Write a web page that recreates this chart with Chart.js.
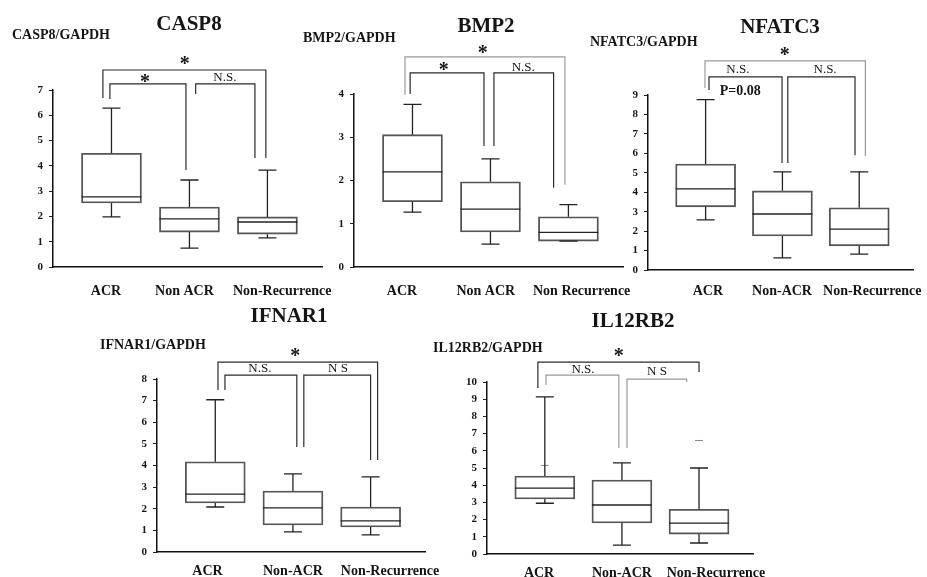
<!DOCTYPE html>
<html><head><meta charset="utf-8">
<script src="https://cdn.jsdelivr.net/npm/chart.js@4.4.1/dist/chart.umd.min.js"></script>
<style>
html,body{margin:0;padding:0;background:#fff;width:927px;height:577px;overflow:hidden;position:relative}
canvas{position:absolute}
</style></head><body>
<canvas id="c1" width="345" height="300" style="left:0px;top:0px"></canvas>
<canvas id="c2" width="345" height="300" style="left:300px;top:0px"></canvas>
<canvas id="c3" width="347" height="300" style="left:580px;top:0px"></canvas>
<canvas id="c4" width="360" height="287" style="left:90px;top:290px"></canvas>
<canvas id="c5" width="355" height="287" style="left:425px;top:290px"></canvas>
<script>
// ---------------- DATA ----------------
const catsCASP8 = ['ACR', 'Non ACR', 'Non-Recurrence'];
const catsBMP2 = ['ACR', 'Non ACR', 'Non Recurrence'];
const catsOther = ['ACR', 'Non-ACR', 'Non-Recurrence'];

const casp8Ticks = [0, 1, 2, 3, 4, 5, 6, 7];
const casp8Min = [1.98, 0.75, 1.15];
const casp8Q1  = [2.53, 1.38, 1.30];
const casp8Med = [2.77, 1.90, 1.78];
const casp8Q3  = [4.50, 2.37, 1.98];
const casp8Max = [6.28, 3.44, 3.83];

const bmp2Ticks = [0, 1, 2, 3, 4];
const bmp2Min = [1.27, 0.53, 0.60];
const bmp2Q1  = [1.51, 0.81, 0.60];
const bmp2Med = [2.20, 1.34, 0.80];
const bmp2Q3  = [3.06, 1.97, 1.16];
const bmp2Max = [3.76, 2.50, 1.44];

const nfatc3Ticks = [0, 1, 2, 3, 4, 5, 6, 7, 8, 9];
const nfatc3Min = [2.58, 0.62, 0.82];
const nfatc3Q1  = [3.25, 1.75, 1.24];
const nfatc3Med = [4.17, 2.88, 2.10];
const nfatc3Q3  = [5.45, 4.07, 3.20];
const nfatc3Max = [8.76, 5.05, 5.05];

const ifnar1Ticks = [0, 1, 2, 3, 4, 5, 6, 7, 8];
const ifnar1Min = [2.08, 0.93, 0.79];
const ifnar1Q1  = [2.27, 1.25, 1.16];
const ifnar1Med = [2.68, 2.04, 1.44];
const ifnar1Q3  = [4.17, 2.82, 2.08];
const ifnar1Max = [7.04, 3.61, 3.47];

const il12rb2Ticks = [0, 1, 2, 3, 4, 5, 6, 7, 8, 9, 10];
const il12rb2Min = [2.95, 0.52, 0.64];
const il12rb2Q1  = [3.20, 1.80, 1.16];
const il12rb2Med = [3.83, 2.85, 1.80];
const il12rb2Q3  = [4.53, 4.30, 2.60];
const il12rb2Max = [9.13, 5.30, 5.00];
const il12rb2OutX = [0, 2];
const il12rb2OutY = [5.15, 6.6];

// significance brackets (category units / value units)
const casp8Brackets = [
  {x1: -0.11, b1: 6.68, x2: 1.98, b2: 4.31, y: 7.79},
  {x1: -0.02, b1: 6.64, x2: 0.955, b2: 3.84, y: 7.24},
  {x1: 1.08, b1: 6.84, x2: 1.84, b2: 4.31, y: 7.24}
];
const casp8Notes = [
  {t: '*', x: 0.94, y: 8.18}, {t: '*', x: 0.43, y: 7.5}, {t: 'N.S.', x: 1.455, y: 7.5}
];
const bmp2Brackets = [
  {x1: -0.096, b1: 3.98, x2: 1.955, b2: 1.9, y: 4.86, fade: true},
  {x1: -0.03, b1: 4.0, x2: 0.917, b2: 2.8, y: 4.49},
  {x1: 1.045, b1: 2.8, x2: 1.81, b2: 1.83, y: 4.49}
];
const bmp2Notes = [
  {t: '*', x: 0.90, y: 5.04}, {t: '*', x: 0.40, y: 4.65}, {t: 'N.S.', x: 1.42, y: 4.62}
];
const nfatc3Brackets = [
  {x1: -0.008, b1: 9.36, x2: 2.08, b2: 5.86, y: 10.75, fade: true},
  {x1: 0.044, b1: 9.26, x2: 0.995, b2: 5.5, y: 9.93},
  {x1: 1.07, b1: 5.5, x2: 1.945, b2: 5.9, y: 9.93}
];
const nfatc3Notes = [
  {t: '*', x: 1.03, y: 11.27}, {t: 'N.S.', x: 0.42, y: 10.29}, {t: 'N.S.', x: 1.555, y: 10.29},
  {t: 'P=0.08', x: 0.45, y: 9.16, big: true}
];
const ifnar1Brackets = [
  {x1: 0.035, b1: 7.49, x2: 2.09, b2: 4.25, y: 8.78},
  {x1: 0.125, b1: 7.49, x2: 1.05, b2: 4.85, y: 8.18},
  {x1: 1.14, b1: 4.85, x2: 2.0, b2: 4.25, y: 8.18}
];
const ifnar1Notes = [
  {t: '*', x: 1.03, y: 9.25}, {t: 'N.S.', x: 0.575, y: 8.5}, {t: 'N S', x: 1.58, y: 8.5}
];
const il12rb2Brackets = [
  {x1: -0.09, b1: 9.65, x2: 2.0, b2: 10.58, y: 11.16},
  {x1: 0.015, b1: 9.83, x2: 0.96, b2: 6.16, y: 10.4, fade: true},
  {x1: 1.066, b1: 6.16, x2: 1.84, b2: 10.0, y: 10.17, fade: true}
];
const il12rb2Notes = [
  {t: '*', x: 0.96, y: 11.74}, {t: 'N.S.', x: 0.495, y: 10.7}, {t: 'N S', x: 1.455, y: 10.6}
];

// ---------------- PANELS (layout) ----------------
const panels = [
  {id: 'c1', title: 'CASP8', yLabel: 'CASP8/GAPDH', cats: catsCASP8, ticks: casp8Ticks,
   min: casp8Min, q1: casp8Q1, med: casp8Med, q3: casp8Q3, max: casp8Max,
   brackets: casp8Brackets, notes: casp8Notes,
   L: {left: 0, top: 0, padTop: 90, padRight: 23, yW: 53, xH: 33, labPad: 16, labX: [-0.07, 0.936, 2.19],
       titleX: 189, titleY: 25, ylX: 12, ylY: 35}},
  {id: 'c2', title: 'BMP2', yLabel: 'BMP2/GAPDH', cats: catsBMP2, ticks: bmp2Ticks,
   min: bmp2Min, q1: bmp2Q1, med: bmp2Med, q3: bmp2Q3, max: bmp2Max,
   brackets: bmp2Brackets, notes: bmp2Notes,
   L: {left: 300, top: 0, padTop: 94, padRight: 22, yW: 54, xH: 33, labPad: 16, labX: [-0.135, 0.94, 2.17],
       titleX: 486, titleY: 27, ylX: 303, ylY: 38}},
  {id: 'c3', title: 'NFATC3', yLabel: 'NFATC3/GAPDH', cats: catsOther, ticks: nfatc3Ticks,
   min: nfatc3Min, q1: nfatc3Q1, med: nfatc3Med, q3: nfatc3Q3, max: nfatc3Max,
   brackets: nfatc3Brackets, notes: nfatc3Notes,
   L: {left: 580, top: 0, padTop: 95, padRight: 14, yW: 68, xH: 30, labPad: 13, labX: [0.03, 0.995, 2.17],
       titleX: 780, titleY: 28, ylX: 590, ylY: 42}},
  {id: 'c4', title: 'IFNAR1', yLabel: 'IFNAR1/GAPDH', cats: catsOther, ticks: ifnar1Ticks,
   min: ifnar1Min, q1: ifnar1Q1, med: ifnar1Med, q3: ifnar1Q3, max: ifnar1Max,
   brackets: ifnar1Brackets, notes: ifnar1Notes,
   L: {left: 90, top: 290, padTop: 89, padRight: 25, yW: 67, xH: 25, labPad: 11, labX: [-0.10, 1.0, 2.25],
       titleX: 289, titleY: 317, ylX: 100, ylY: 345}},
  {id: 'c5', title: 'IL12RB2', yLabel: 'IL12RB2/GAPDH', cats: catsOther, ticks: il12rb2Ticks,
   min: il12rb2Min, q1: il12rb2Q1, med: il12rb2Med, q3: il12rb2Q3, max: il12rb2Max,
   brackets: il12rb2Brackets, notes: il12rb2Notes, outX: il12rb2OutX, outY: il12rb2OutY,
   L: {left: 425, top: 290, padTop: 92, padRight: 27, yW: 62, xH: 23, labPad: 11, labX: [-0.075, 1.0, 2.22],
       titleX: 633, titleY: 322, ylX: 433, ylY: 348}}
];

const SERIF = "'Liberation Serif','Times New Roman',serif";
const INK = '#151515';

const boxExtras = {
  id: 'boxExtras',
  afterDatasetsDraw(chart, args, opts) {
    const p = panels[opts.idx];
    const xs = chart.scales.x, ys = chart.scales.y, ctx = chart.ctx;
    const meta = chart.getDatasetMeta(0);
    ctx.save();
    ctx.strokeStyle = '#222';
    ctx.lineWidth = 1.3;
    for (let i = 0; i < p.q1.length; i++) {
      const cx = xs.getPixelForValue(i);
      const half = meta.data[i].width / 2;
      const yMin = ys.getPixelForValue(p.min[i]);
      const yQ1 = ys.getPixelForValue(p.q1[i]);
      const yMed = ys.getPixelForValue(p.med[i]);
      const yQ3 = ys.getPixelForValue(p.q3[i]);
      const yMax = ys.getPixelForValue(p.max[i]);
      ctx.beginPath();
      ctx.moveTo(cx, yQ3); ctx.lineTo(cx, yMax);
      ctx.moveTo(cx - 9, yMax); ctx.lineTo(cx + 9, yMax);
      ctx.moveTo(cx, yQ1); ctx.lineTo(cx, yMin);
      ctx.moveTo(cx - 9, yMin); ctx.lineTo(cx + 9, yMin);
      ctx.stroke();
      ctx.beginPath();
      ctx.moveTo(cx - half, yMed); ctx.lineTo(cx + half, yMed);
      ctx.stroke();
    }
    ctx.restore();
  },
  afterDraw(chart, args, opts) {
    const p = panels[opts.idx];
    const xs = chart.scales.x, ys = chart.scales.y, ctx = chart.ctx;
    const L = p.L;
    ctx.save();
    p.brackets.forEach(b => {
      ctx.strokeStyle = b.fade ? '#9a9a9a' : '#2a2a2a';
      ctx.lineWidth = 1.2;
      ctx.beginPath();
      ctx.moveTo(xs.getPixelForValue(b.x1), ys.getPixelForValue(b.b1));
      ctx.lineTo(xs.getPixelForValue(b.x1), ys.getPixelForValue(b.y));
      ctx.lineTo(xs.getPixelForValue(b.x2), ys.getPixelForValue(b.y));
      ctx.lineTo(xs.getPixelForValue(b.x2), ys.getPixelForValue(b.b2));
      ctx.stroke();
    });
    ctx.fillStyle = INK;
    ctx.textBaseline = 'middle';
    ctx.textAlign = 'center';
    p.notes.forEach(n => {
      const px = xs.getPixelForValue(n.x), py = ys.getPixelForValue(n.y);
      if (n.t === '*') {
        ctx.font = 'bold 20px ' + SERIF;
        ctx.fillText(n.t, px, py + 5);
      } else if (n.big) {
        ctx.font = 'bold 14px ' + SERIF;
        ctx.fillText(n.t, px, py);
      } else {
        ctx.font = '13px ' + SERIF;
        ctx.fillText(n.t, px, py);
      }
    });
    ctx.font = 'bold 21px ' + SERIF;
    ctx.fillText(p.title, L.titleX - L.left, L.titleY - L.top);
    ctx.font = 'bold 14px ' + SERIF;
    ctx.textAlign = 'left';
    ctx.fillText(p.yLabel, L.ylX - L.left, L.ylY - L.top);
    ctx.restore();
  }
};

panels.forEach((p, idx) => {
  const L = p.L;
  const datasets = [{
    type: 'bar',
    data: p.q1.map((q, i) => ({x: i, y: [q, p.q3[i]]})),
    backgroundColor: 'rgba(255,255,255,0)',
    borderColor: '#555',
    borderWidth: 1.2,
    borderSkipped: false,
    barThickness: 60
  }];
  if (p.outX) {
    datasets.push({
      type: 'scatter',
      data: p.outX.map((x, i) => ({x: x, y: p.outY[i]})),
      pointStyle: 'line', radius: 4, borderColor: '#888', borderWidth: 1
    });
  }
  new Chart(document.getElementById(p.id), {
    type: 'bar',
    data: {datasets},
    plugins: [boxExtras],
    options: {
      responsive: false,
      animation: false,
      events: [],
      layout: {padding: {top: L.padTop, right: L.padRight, left: 0, bottom: 0}},
      plugins: {legend: {display: false}, tooltip: {enabled: false}, boxExtras: {idx}},
      scales: {
        x: {
          type: 'linear', min: -0.75, max: 2.7, offset: false,
          afterBuildTicks: ax => { ax.ticks = L.labX.map(v => ({value: v})); },
          afterFit: ax => { ax.height = L.xH; ax.paddingLeft = 0; ax.paddingRight = 0; },
          ticks: {
            callback: (v, i) => p.cats[i],
            font: {family: SERIF, size: 14, weight: 'bold'},
            color: INK, padding: L.labPad, maxRotation: 0, autoSkip: false
          },
          grid: {display: false, drawTicks: false},
          border: {color: '#111', width: 1.5}
        },
        y: {
          type: 'linear', min: 0, max: p.ticks[p.ticks.length - 1],
          afterBuildTicks: ax => { ax.ticks = p.ticks.map(v => ({value: v})); },
          afterFit: ax => { ax.width = L.yW; },
          ticks: {font: {family: SERIF, size: 11, weight: 'bold'}, color: INK, padding: 6},
          grid: {drawOnChartArea: false, tickLength: 4, color: '#222'},
          border: {color: '#111', width: 1.5}
        }
      }
    }
  });
});
</script>
</body></html>
